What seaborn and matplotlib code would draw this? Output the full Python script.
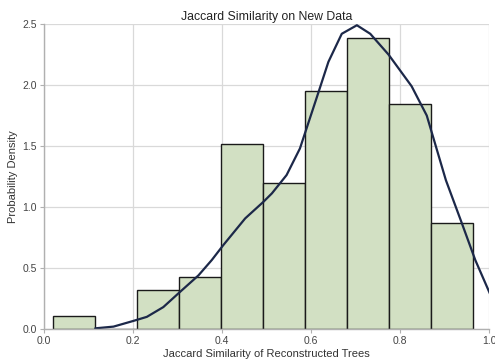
import numpy as np
import pandas as pd
import matplotlib
matplotlib.use("Agg")
import matplotlib.pyplot as plt
import seaborn as sns

# Histogram data (density per bin)
bin_edges = [0.020, 0.1145, 0.209, 0.3035, 0.398, 0.4925, 0.587, 0.6815, 0.776, 0.8705, 0.965]
bin_heights = [0.104, 0.0, 0.32, 0.43, 1.516, 1.194, 1.953, 2.385, 1.844, 0.866]

# KDE curve
kde_x = [0.115, 0.156, 0.200, 0.231, 0.268, 0.306, 0.347, 0.377, 0.403, 0.452, 0.493, 0.512,
         0.545, 0.575, 0.613, 0.639, 0.669, 0.703, 0.733, 0.774, 0.826, 0.860, 0.903, 0.939,
         0.969, 1.002]
kde_y = [0.006, 0.02, 0.066, 0.10, 0.18, 0.306, 0.44, 0.566, 0.689, 0.907, 1.043, 1.112,
         1.262, 1.48, 1.90, 2.19, 2.42, 2.49, 2.42, 2.25, 1.99, 1.75, 1.22, 0.866,
         0.566, 0.29]

title = "Jaccard Similarity on New Data"
xlabel = "Jaccard Similarity of Reconstructed Trees"
ylabel = "Probability Density"

sns.set_theme(style="whitegrid")
plt.rcParams["font.family"] = ["Liberation Sans", "DejaVu Sans"]

fig = plt.figure(figsize=(4.95, 3.64), dpi=100)
ax = fig.add_axes([0.089, 0.096, 0.899, 0.838])

centers = [(bin_edges[i] + bin_edges[i + 1]) / 2 for i in range(len(bin_heights))]
df = pd.DataFrame({"x": centers, "w": bin_heights})
sns.histplot(data=df, x="x", weights="w", bins=bin_edges, stat="count",
             color="#d2e0c3", alpha=1.0, edgecolor="#1a1a1a", linewidth=1.0, ax=ax)

kdf = pd.DataFrame({"x": kde_x, "y": kde_y})
sns.lineplot(data=kdf, x="x", y="y", sort=False, color="#1c2849", linewidth=1.6, ax=ax)

ax.set_xlim(0, 1.0)
ax.set_ylim(0, 2.5)
ax.set_xticks([0.0, 0.2, 0.4, 0.6, 0.8, 1.0])
ax.set_yticks([0.0, 0.5, 1.0, 1.5, 2.0, 2.5])
ax.set_xticklabels(["0.0", "0.2", "0.4", "0.6", "0.8", "1.0"])
ax.set_yticklabels(["0.0", "0.5", "1.0", "1.5", "2.0", "2.5"])

ax.grid(True, color="#d9d9d9", linewidth=0.9)
ax.set_axisbelow(True)
for s in ["top", "right"]:
    ax.spines[s].set_visible(False)
for s in ["left", "bottom"]:
    ax.spines[s].set_color("#b0b0b0")
    ax.spines[s].set_linewidth(1.0)
ax.tick_params(axis="both", labelsize=7.5, colors="#444444", length=3, width=0.8,
               color="#b0b0b0", pad=2, bottom=True, left=True)

ax.set_title(title, fontsize=8.8, color="#222222", pad=3)
ax.set_xlabel(xlabel, fontsize=8, color="#333333", labelpad=2)
ax.set_ylabel(ylabel, fontsize=8, color="#333333", labelpad=3)

fig.savefig("out.png", dpi=100)
